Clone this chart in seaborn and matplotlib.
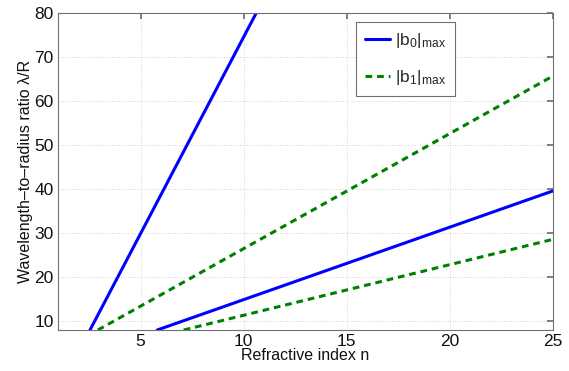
import matplotlib
matplotlib.use("Agg")
import matplotlib.pyplot as plt
import seaborn as sns
import pandas as pd
from matplotlib.lines import Line2D

# Data (straight lines: endpoints)
b0_branch1_n = [2.55, 10.61]
b0_branch1_r = [8.0, 80.0]
b0_branch2_n = [5.81, 25.0]
b0_branch2_r = [8.0, 39.6]
b1_branch1_n = [2.93, 25.0]
b1_branch1_r = [8.0, 65.7]
b1_branch2_n = [7.09, 25.0]
b1_branch2_r = [8.0, 28.6]

series_labels = [r"$|\mathregular{b_0}|_{\mathregular{max}}$", r"$|\mathregular{b_1}|_{\mathregular{max}}$"]
x_ticks = [5, 10, 15, 20, 25]
y_ticks = [10, 20, 30, 40, 50, 60, 70, 80]

rows = []
for n, r, s, b in [(b0_branch1_n, b0_branch1_r, "b0", "b0a"),
                   (b0_branch2_n, b0_branch2_r, "b0", "b0b"),
                   (b1_branch1_n, b1_branch1_r, "b1", "b1a"),
                   (b1_branch2_n, b1_branch2_r, "b1", "b1b")]:
    for xi, yi in zip(n, r):
        rows.append({"n": xi, "ratio": yi, "series": s, "branch": b})
df = pd.DataFrame(rows)

sns.set_theme(style="white")
plt.rcParams['font.family'] = ['Liberation Sans', 'DejaVu Sans']
plt.rcParams['mathtext.fontset'] = 'custom'
plt.rcParams['mathtext.rm'] = 'Liberation Sans'
plt.rcParams['mathtext.it'] = 'Liberation Sans'

fig = plt.figure(figsize=(5.69, 3.71), dpi=100)
ax = fig.add_axes([0.102, 0.1105, 0.870, 0.8545])

colors = {"b0": (0, 0, 1), "b1": (0, 0.5, 0)}
for s, sub in df.groupby("series"):
    for b, g in sub.groupby("branch"):
        sns.lineplot(data=g, x="n", y="ratio", ax=ax, color=colors[s],
                     linewidth=2.2, estimator=None, sort=False,
                     linestyle="-" if s == "b0" else (0, (2.2, 1.6)))

ax.set_xlim(1, 25)
ax.set_ylim(8, 80)
ax.set_xticks(x_ticks)
ax.set_yticks(y_ticks)
ax.grid(True, linestyle=(0, (0.6, 2.2)), color="#a8a8a8", linewidth=0.6)
for sp in ax.spines.values():
    sp.set_color("#707070")
    sp.set_linewidth(0.8)
ax.tick_params(direction="in", length=4, color="#707070", top=True, right=True,
               labelsize=12.5, pad=3, labelcolor="#111111")
ax.set_xlabel("Refractive index n", fontsize=11.5, labelpad=-1, color="#111111")
ax.set_ylabel("Wavelength\u2013to\u2013radius ratio \u03bb/R", fontsize=11.5, labelpad=1, color="#111111")

handles = [Line2D([], [], color=colors["b0"], linewidth=2.2, linestyle="-"),
           Line2D([], [], color=colors["b1"], linewidth=2.2, linestyle=(0, (2.2, 1.6)))]
leg = ax.legend(handles, series_labels, loc="upper left", bbox_to_anchor=(0.601, 0.972),
                fontsize=12.5, frameon=True, fancybox=False, framealpha=1,
                handlelength=1.45, handletextpad=0.25, borderpad=0.55, labelspacing=1.0,
                borderaxespad=0)
leg.get_frame().set_edgecolor("#707070")
leg.get_frame().set_linewidth(0.8)

fig.savefig("out.png", dpi=100)
